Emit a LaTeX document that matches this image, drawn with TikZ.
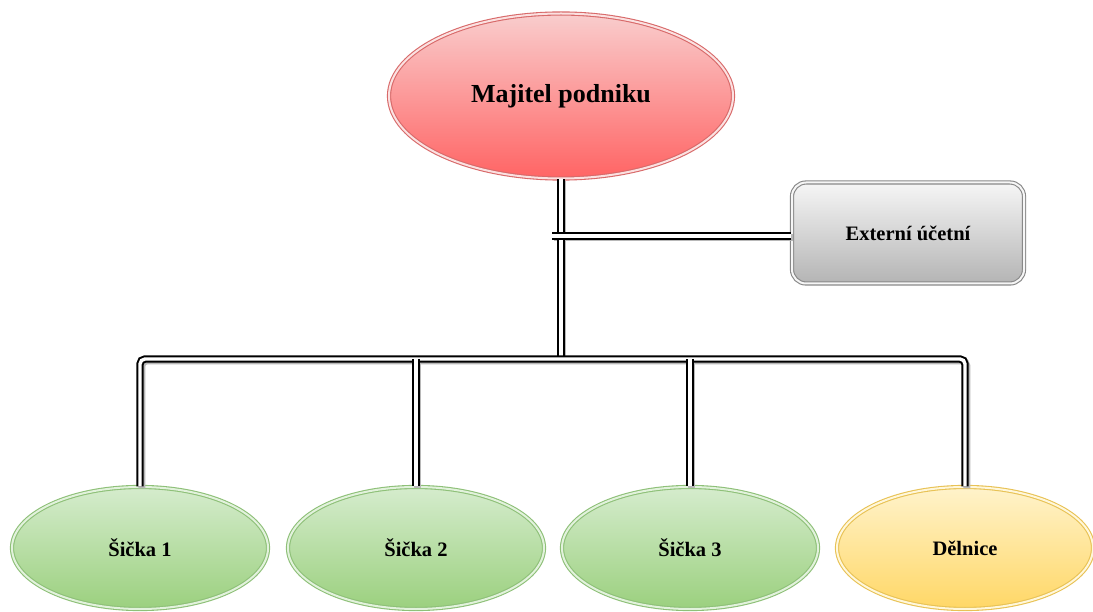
\documentclass[tikz,border=0pt]{standalone}
\usepackage{fontspec}
\setmainfont{Liberation Serif}
\usetikzlibrary{shapes.geometric}
\definecolor{redTop}{HTML}{F9CDCD}
\definecolor{redBot}{HTML}{FF6464}
\definecolor{redLine}{HTML}{D86A6A}
\definecolor{grayTop}{HTML}{F6F6F6}
\definecolor{grayBot}{HTML}{B4B4B4}
\definecolor{grayLine}{HTML}{888888}
\definecolor{greenTop}{HTML}{D5ECCD}
\definecolor{greenBot}{HTML}{9BD07E}
\definecolor{greenLine}{HTML}{8EC078}
\definecolor{yelTop}{HTML}{FFF3CB}
\definecolor{yelBot}{HTML}{FFD766}
\definecolor{yelLine}{HTML}{E8C255}
\tikzset{
  oval/.style={ellipse, inner sep=0pt, line width=1.1pt, double distance=2pt,
    font=\bfseries\fontsize{20.5}{24}\selectfont},
  redoval/.style={oval, top color=redTop, bottom color=redBot, draw=redLine, double=redTop!60},
  greenoval/.style={oval, minimum width=256pt, minimum height=122pt,
    top color=greenTop, bottom color=greenBot, draw=greenLine, double=greenTop!70},
  yeloval/.style={oval, minimum width=256pt, minimum height=122pt,
    top color=yelTop, bottom color=yelBot, draw=yelLine, double=yelTop!70},
  grayrect/.style={rectangle, rounded corners=14pt, inner sep=0pt,
    minimum width=232pt, minimum height=101pt, line width=1.1pt, double distance=2pt,
    top color=grayTop, bottom color=grayBot, draw=grayLine, double=grayTop,
    font=\bfseries\fontsize{20.5}{24}\selectfont},
  shadowline/.style={draw=black!28, line width=7pt},
  link/.style={draw=black, line width=2pt, double=white, double distance=3.4pt}
}
\begin{document}
\begin{tikzpicture}[x=1pt,y=-1pt]
  \useasboundingbox (0,0) rectangle (1093,612);

  % nodes
  \node[redoval, minimum width=344pt, minimum height=165pt,
        font=\bfseries\fontsize{26}{30}\selectfont] (owner) at (561,96) {Majitel podniku};
  \node[grayrect] (acct) at (908,233) {Externí účetní};
  \node[greenoval] (s1) at (140,548) {Šička 1};
  \node[greenoval] (s2) at (416,548) {Šička 2};
  \node[greenoval] (s3) at (690,548) {Šička 3};
  \node[yeloval] (w) at (965,548) {Dělnice};

  % junction points
  \coordinate (bus) at (561,359);
  \coordinate (tap) at (552,236);

  % soft shadows under the connectors
  \begin{scope}[transform canvas={shift={(1.8pt,-1.8pt)}}]
    \draw[shadowline] (owner.south) -- (owner.south |- bus);
    \draw[shadowline] (acct.west |- tap) -- (tap);
    \draw[shadowline, rounded corners=5pt] (s1.north) -- (s1.north |- bus) -- (w.north |- bus) -- (w.north);
    \draw[shadowline] (s2.north |- bus) -- (s2.north);
    \draw[shadowline] (s3.north |- bus) -- (s3.north);
  \end{scope}

  % connectors
  \draw[link] (owner.south) -- (owner.south |- bus);
  \draw[link] (acct.west |- tap) -- (tap);
  \draw[link, rounded corners=5pt] (s1.north) -- (s1.north |- bus) -- (w.north |- bus) -- (w.north);
  \draw[link] (s2.north |- bus) -- (s2.north);
  \draw[link] (s3.north |- bus) -- (s3.north);
\end{tikzpicture}
\end{document}
